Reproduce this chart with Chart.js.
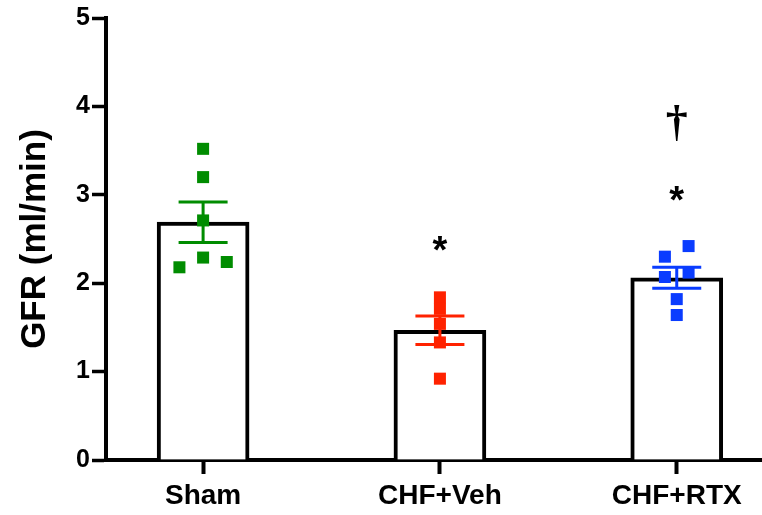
<!DOCTYPE html>
<html>
<head>
<meta charset="utf-8">
<title>GFR</title>
<script src="https://cdn.jsdelivr.net/npm/chart.js@4.4.1/dist/chart.umd.min.js"></script>
<style>
  html, body { margin: 0; padding: 0; background: #fff; }
  #wrap { width: 762px; height: 515px; }
</style>
</head>
<body>
<div id="wrap"><canvas id="gfr-chart" width="762" height="515"></canvas></div>
<script>
// ---- Data ----
const groups  = ['Sham', 'CHF+Veh', 'CHF+RTX'];
const shamGFR = [3.52, 3.20, 2.71, 2.29, 2.18, 2.24];
const vehGFR  = [1.84, 1.71, 1.54, 1.33, 0.92];
const rtxGFR  = [2.42, 2.30, 2.07, 2.12, 1.82, 1.64];

// sideways spread of overlapping points, in group units
const shamJitter = [0, 0, 0, 0, -0.1, 0.1];
const vehJitter  = [0, 0, 0, 0, 0];
const rtxJitter  = [0.05, -0.05, -0.05, 0.05, 0, 0];

const yTicks = [0, 1, 2, 3, 4, 5];

// significance marks: group index, height (ml/min), symbol
const sigGroup  = [1, 2, 2];
const sigLevel  = [2.45, 3.02, 3.81];
const sigSymbol = ['*', '*', '\u2020'];

const groupColors = ['#008c00', '#ff2200', '#0a3cff'];

// ---- Summary stats (mean ± SEM) ----
const allGFR  = [shamGFR, vehGFR, rtxGFR];
const jitters = [shamJitter, vehJitter, rtxJitter];
const mean = a => a.reduce((s, v) => s + v, 0) / a.length;
const sem  = a => {
  const m = mean(a);
  const sd = Math.sqrt(a.reduce((s, v) => s + (v - m) ** 2, 0) / (a.length - 1));
  return sd / Math.sqrt(a.length);
};
const means = allGFR.map(mean);
const sems  = allGFR.map(sem);

const FONT = "'Liberation Sans', Arial, Helvetica, sans-serif";

// error bars go between the bars and the points
const errorBars = {
  id: 'errorBars',
  afterDatasetDraw(chart, args) {
    if (args.index !== 0) return;
    const { ctx, scales: { x, y } } = chart;
    ctx.save();
    ctx.lineWidth = 3;
    means.forEach((m, i) => {
      const cx = x.getPixelForValue(i);
      const top = y.getPixelForValue(m + sems[i]);
      const bot = y.getPixelForValue(m - sems[i]);
      ctx.strokeStyle = groupColors[i];
      ctx.beginPath();
      ctx.moveTo(cx, top); ctx.lineTo(cx, bot);
      ctx.moveTo(cx - 24.5, top); ctx.lineTo(cx + 24.5, top);
      ctx.moveTo(cx - 24.5, bot); ctx.lineTo(cx + 24.5, bot);
      ctx.stroke();
    });
    ctx.restore();
  },
  afterDatasetsDraw(chart) {
    const { ctx, scales: { x, y } } = chart;
    ctx.save();
    ctx.fillStyle = '#000';
    ctx.textAlign = 'center';
    ctx.textBaseline = 'alphabetic';
    sigSymbol.forEach((sym, k) => {
      ctx.font = sym === '*' ? `bold 38px ${FONT}` : `bold 44px 'Liberation Serif', 'DejaVu Serif', serif`;
      const mt = ctx.measureText(sym);
      const cy = y.getPixelForValue(sigLevel[k]);
      // centre the glyph ink on the level
      const base = cy + (mt.actualBoundingBoxAscent - mt.actualBoundingBoxDescent) / 2;
      ctx.fillText(sym, x.getPixelForValue(sigGroup[k]), base);
    });
    ctx.restore();
  }
};

const scatterSets = allGFR.map((vals, i) => ({
  type: 'scatter',
  data: vals.map((v, j) => ({ x: i + jitters[i][j], y: v })),
  backgroundColor: groupColors[i],
  borderWidth: 0,
  pointStyle: 'rect',
  pointRadius: 8.5,
  pointHoverRadius: 8.5,
  order: 1
}));

new Chart(document.getElementById('gfr-chart'), {
  type: 'bar',
  data: {
    datasets: [{
      type: 'bar',
      data: means.map((m, i) => ({ x: i, y: m })),
      backgroundColor: '#ffffff',
      borderColor: '#000000',
      borderWidth: 4,
      barThickness: 92,
      order: 2
    }, ...scatterSets]
  },
  options: {
    responsive: false,
    animation: false,
    devicePixelRatio: 1,
    layout: { autoPadding: false, padding: { top: 18, right: 0, bottom: 0, left: 0 } },
    plugins: { legend: { display: false }, tooltip: { enabled: false } },
    scales: {
      x: {
        type: 'linear',
        min: -0.41,
        max: 2.36,
        offset: false,
        afterBuildTicks: s => { s.ticks = groups.map((_, i) => ({ value: i })); },
        afterFit: s => { s.height = 55; },
        ticks: {
          callback: v => groups[v],
          color: '#000',
          font: { family: FONT, size: 28, weight: 'bold' },
          padding: 5,
          maxRotation: 0,
          autoSkip: false
        },
        grid: {
          offset: false,
          drawOnChartArea: false,
          drawTicks: true,
          tickLength: 14,
          tickWidth: 4,
          tickColor: '#000'
        },
        border: { color: '#000', width: 4 }
      },
      y: {
        min: 0,
        max: 5,
        afterBuildTicks: s => { s.ticks = yTicks.map(v => ({ value: v })); },
        afterFit: s => { s.width = 106; },
        ticks: {
          color: '#000',
          font: { family: FONT, size: 25, weight: 'bold' },
          padding: 2
        },
        grid: {
          drawOnChartArea: false,
          drawTicks: true,
          tickLength: 14,
          tickWidth: 3.5,
          tickColor: '#000'
        },
        border: { color: '#000', width: 4 },
        title: {
          display: true,
          text: 'GFR (ml/min)',
          color: '#000',
          font: { family: FONT, size: 35, weight: 'bold' },
          padding: { top: 14, bottom: 0 }
        }
      }
    }
  },
  plugins: [errorBars]
});
</script>
</body>
</html>
